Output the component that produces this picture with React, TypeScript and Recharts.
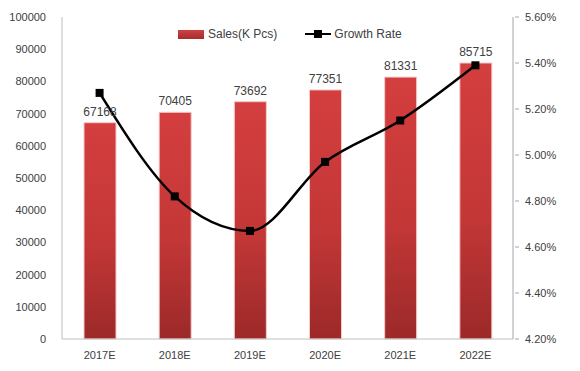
import React from "react";
import {
  ComposedChart,
  Bar,
  Line,
  XAxis,
  YAxis,
  Legend,
  LabelList,
} from "recharts";

const categories = ["2017E", "2018E", "2019E", "2020E", "2021E", "2022E"];
const sales = [67168, 70405, 73692, 77351, 81331, 85715];
const growthRate = [5.27, 4.82, 4.67, 4.97, 5.15, 5.39];
const leftTicks = [0, 10000, 20000, 30000, 40000, 50000, 60000, 70000, 80000, 90000, 100000];
const rightTicks = [4.2, 4.4, 4.6, 4.8, 5.0, 5.2, 5.4, 5.6];

const data = categories.map((c, i) => ({
  name: c,
  sales: sales[i],
  growth: growthRate[i],
}));

const FONT = "'Liberation Sans', Arial, sans-serif";
const TEXT = "#404040";
const AXIS = "#bfbfbf";

const SquareDot = (props: any) => {
  const { cx, cy } = props;
  if (cx == null || cy == null) return null;
  return <rect x={cx - 4} y={cy - 4} width={8} height={8} fill="#000" />;
};

const RightTick = (props: any) => {
  const { x, y, payload } = props;
  return (
    <g>
      <line x1={x - 10} y1={y} x2={x - 6} y2={y} stroke="#a6a6a6" />
      <text
        x={x}
        y={y}
        dy="0.355em"
        textAnchor="start"
        fill={TEXT}
        fontSize={11}
        fontFamily={FONT}
      >
        {payload.value.toFixed(2) + "%"}
      </text>
    </g>
  );
};

const LegendContent = () => (
  <div
    style={{
      display: "flex",
      alignItems: "center",
      fontFamily: FONT,
      fontSize: 12,
      color: TEXT,
    }}
  >
    <span
      style={{
        display: "inline-block",
        width: 26,
        height: 9,
        background: "linear-gradient(#d14141, #a52d2d)",
        marginRight: 4,
      }}
    />
    <span style={{ marginRight: 28 }}>Sales(K Pcs)</span>
    <svg width={26} height={10} style={{ marginRight: 3 }}>
      <line x1={0} y1={5} x2={26} y2={5} stroke="#000" strokeWidth={2} />
      <rect x={9} y={1} width={8} height={8} fill="#000" />
    </svg>
    <span>Growth Rate</span>
  </div>
);

export default function App() {
  return (
    <div style={{ position: "absolute", left: 0, top: 0, background: "#fff" }}>
      <ComposedChart
        width={580}
        height={371}
        data={data}
        margin={{ top: 17, right: 0, bottom: 0, left: 0 }}
      >
        <defs>
          <linearGradient id="barGrad" x1="0" y1="0" x2="0" y2="1">
            <stop offset="0%" stopColor="#d43e3e" />
            <stop offset="55%" stopColor="#c43737" />
            <stop offset="100%" stopColor="#9c2929" />
          </linearGradient>
        </defs>
        <XAxis
          dataKey="name"
          height={32}
          tickLine={false}
          tickSize={6}
          tickMargin={6}
          stroke={AXIS}
          tick={{ fill: TEXT, fontSize: 11, fontFamily: FONT }}
        />
        <YAxis
          yAxisId="left"
          width={62}
          domain={[0, 100000]}
          ticks={leftTicks}
          interval={0}
          tickLine={false}
          tickSize={6}
          tickMargin={10}
          stroke={AXIS}
          tick={{ fill: TEXT, fontSize: 11, fontFamily: FONT }}
        />
        <YAxis
          yAxisId="right"
          orientation="right"
          width={67}
          domain={[4.2, 5.6]}
          ticks={rightTicks}
          interval={0}
          tickLine={false}
          tickSize={6}
          tickMargin={6}
          stroke="#a6a6a6"
          tick={<RightTick />}
        />
        <Legend
          verticalAlign="middle"
          align="center"
          layout="horizontal"
          content={<LegendContent />}
          wrapperStyle={{ position: "absolute", top: 27, left: 178, width: 260 }}
        />
        <Bar
          yAxisId="left"
          dataKey="sales"
          name="Sales(K Pcs)"
          barSize={32}
          fill="url(#barGrad)"
          stroke="#f2caca"
          strokeWidth={1}
          isAnimationActive={false}
        >
          <LabelList
            dataKey="sales"
            position="top"
            offset={7}
            fill={TEXT}
            stroke="none"
            fontSize={12}
            fontFamily={FONT}
          />
        </Bar>
        <Line
          yAxisId="right"
          dataKey="growth"
          name="Growth Rate"
          type="monotone"
          stroke="#000"
          strokeWidth={2.5}
          dot={<SquareDot />}
          activeDot={false}
          isAnimationActive={false}
        />
      </ComposedChart>
    </div>
  );
}
